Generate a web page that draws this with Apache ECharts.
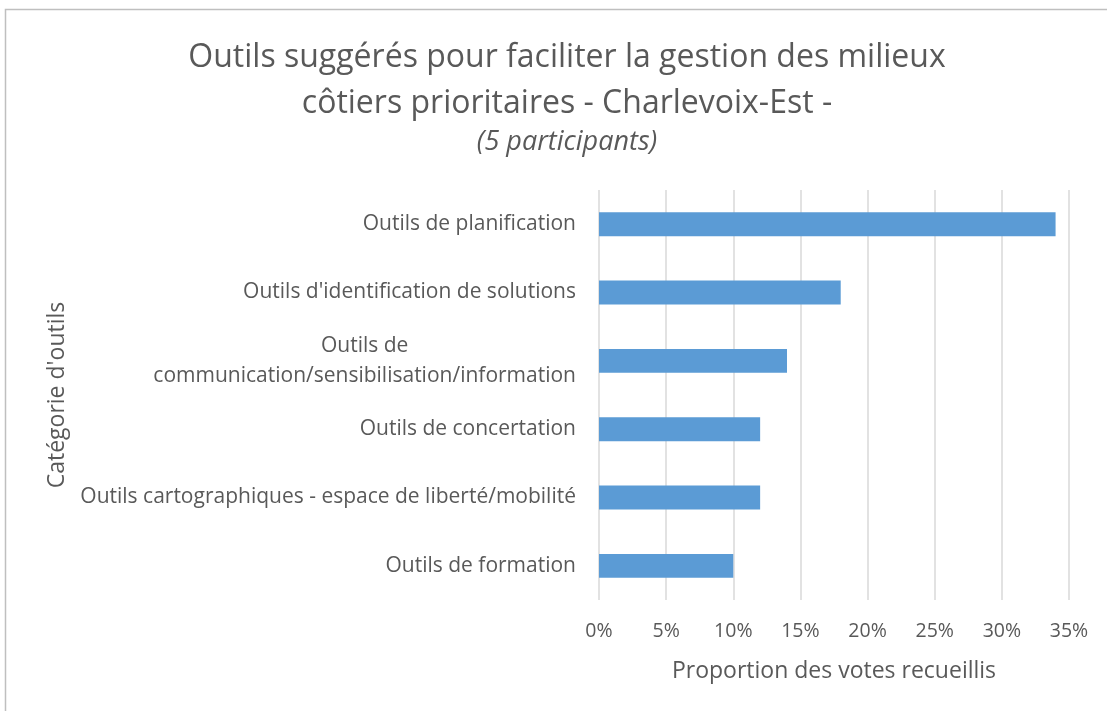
<!DOCTYPE html>
<html>
<head>
<meta charset="utf-8">
<script src="https://cdn.jsdelivr.net/npm/echarts@6/dist/echarts.min.js"></script>
<style>
  html, body { margin: 0; padding: 0; background: #fff; }
  #chart { width: 1107px; height: 711px; }
</style>
</head>
<body>
<div id="chart"></div>
<script>
// catégories (de haut en bas) et proportions en %
var categories = [
  "Outils de planification",
  "Outils d'identification de solutions",
  "Outils de\ncommunication/sensibilisation/information",
  "Outils de concertation",
  "Outils cartographiques - espace de liberté/mobilité",
  "Outils de formation"
];
var votes = [34, 18, 14, 12, 12, 10];
var xMax = 35;
var xStep = 5;

var FONT = "Open Sans";
var GREY = "#595959";

var myChart = echarts.init(document.getElementById("chart"));

// étiquette sur deux lignes : lignes centrées entre elles, bloc aligné à droite
function catLabel(v) {
  var parts = v.split("\n");
  if (parts.length < 2) return v;
  return "{a|" + parts[0] + "}\n{a|" + parts[1] + "}";
}

var option = {
  backgroundColor: "#fff",
  textStyle: { fontFamily: FONT },
  title: [
    {
      text: "Outils suggérés pour faciliter la gestion des milieux\ncôtiers prioritaires - Charlevoix-Est -",
      left: 562,
      top: 30,
      textAlign: "center",
      textStyle: {
        fontFamily: FONT,
        fontWeight: "normal",
        fontSize: 32,
        lineHeight: 46,
        color: GREY
      }
    },
    {
      text: "(5 participants)",
      left: 562,
      top: 123,
      textAlign: "center",
      textStyle: {
        fontFamily: FONT,
        fontWeight: "normal",
        fontStyle: "italic",
        fontSize: 27,
        lineHeight: 28,
        color: GREY
      }
    }
  ],
  graphic: [
    {
      type: "rect",
      shape: { x: 5.5, y: 9.5, width: 1200, height: 800 },
      style: { fill: "none", stroke: "#BFBFBF", lineWidth: 1.5 },
      silent: true
    }
  ],
  grid: {
    left: 599,
    right: 38,
    top: 190,
    bottom: 111,
    containLabel: false
  },
  xAxis: {
    type: "value",
    min: 0,
    max: xMax,
    interval: xStep,
    name: "Proportion des votes recueillis",
    nameLocation: "middle",
    nameGap: 60,
    nameTextStyle: { fontFamily: FONT, fontSize: 23, color: GREY },
    axisLine: { show: false },
    axisTick: { show: false },
    axisLabel: {
      formatter: "{value}%",
      margin: 21,
      fontFamily: FONT,
      fontSize: 19.5,
      color: GREY
    },
    splitLine: { show: true, lineStyle: { color: "#D9D9D9", width: 1.5 } }
  },
  yAxis: {
    type: "category",
    data: categories,
    inverse: true,
    name: "Catégorie d'outils",
    nameLocation: "middle",
    nameGap: 530,
    nameRotate: 90,
    nameTextStyle: { fontFamily: FONT, fontSize: 23, color: GREY },
    axisLine: { show: false },
    axisTick: { show: false },
    axisLabel: {
      margin: 23,
      fontFamily: FONT,
      fontSize: 21,
      lineHeight: 30,
      color: GREY,
      align: "right",
      formatter: catLabel,
      rich: {
        a: { fontFamily: FONT, fontSize: 21, lineHeight: 30, color: GREY, align: "center" }
      }
    }
  },
  series: [
    {
      type: "bar",
      data: votes,
      barWidth: "35%",
      itemStyle: { color: "#5B9BD5" },
      silent: true
    }
  ]
};

myChart.setOption(option);
</script>
</body>
</html>
